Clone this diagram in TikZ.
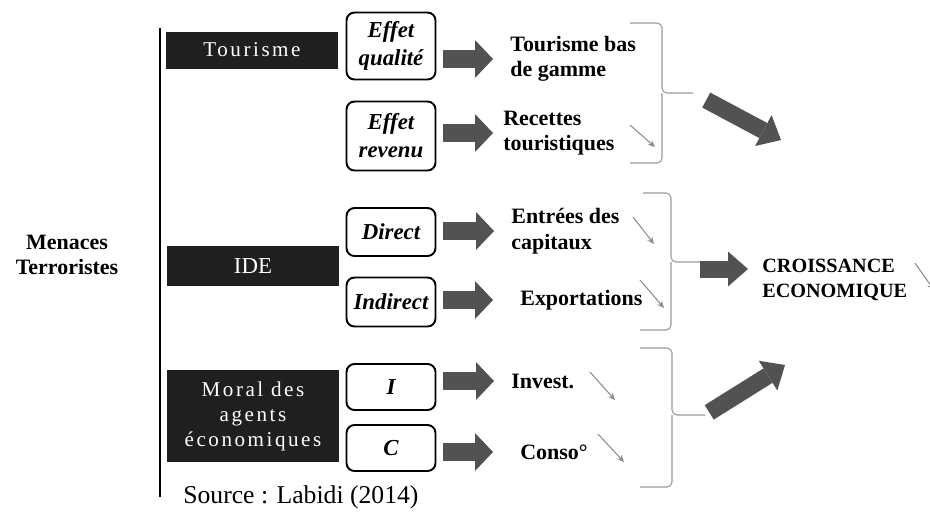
\documentclass[tikz,border=0pt]{standalone}
\usepackage{fontspec}
\setmainfont{Liberation Serif}
\newfontfamily\widefont[LetterSpace=12]{Liberation Serif}
\usetikzlibrary{arrows.meta,positioning}

\begin{document}
\begin{tikzpicture}[%
    x=0.02cm, y=-0.02cm,        % One unit is one pixel of the page
    >={Triangle[length=0.36cm,width=0.76cm,line width=0pt]},
    ]
% -------------------------------------------------
% Box, label and arrow styles
\tikzset{
  dark/.style={fill=black!88, text=white, align=center, minimum width=3.46cm,
    inner sep=0pt, font=\widefont\fontsize{12}{14.2}\selectfont},
  eff/.style={draw, line width=1.1pt, rounded corners=0.16cm, align=center,
    minimum width=1.78cm, inner sep=1pt, font=\bfseries\itshape\fontsize{13}{16}\selectfont},
  lbl/.style={anchor=west, inner sep=0pt, align=left, font=\bfseries\fontsize{12.5}{14.5}\selectfont},
  % Connector line styles
  fat/.style={->, draw=black!68, line width=0.36cm, shorten <=0.14cm, shorten >=0.34cm},
  big/.style={-{Triangle[length=0.4cm,width=0.7cm,line width=0pt]}, draw=black!68, line width=0.34cm},
  brc/.style={draw=black!40, line width=0.6pt, rounded corners=0.1cm},
  dec/.style={-{Stealth[length=4pt,width=3.5pt]}, draw=black!45, line width=0.6pt},
}
\useasboundingbox (0,0) rectangle (930,512);
% -------------------------------------------------
% Start by placing the nodes
\node[align=center, font=\bfseries\fontsize{12.5}{14.5}\selectfont] (mt) at (67,255) {Menaces\\Terroristes};
\draw[line width=1.6pt] (160,28) -- (160,497);

\node[dark, minimum height=0.74cm] (tour) at (252,50) {Tourisme};
\node[dark, minimum height=0.8cm, font=\rmfamily\fontsize{13}{15}\selectfont] (ide) at (253,266) {IDE};
\node[dark, minimum height=1.84cm] (moral) at (253,416) {Moral des\\agents\\économiques};

\node[eff, minimum height=1.34cm] (eq) at (391,46) {Effet\\qualité};
\node[eff, minimum height=1.38cm] (er) at (391,136) {Effet\\revenu};
\node[eff, minimum height=0.96cm] (di) at (391,232) {Direct};
\node[eff, minimum height=0.98cm] (ind) at (391,302) {Indirect};
\node[eff, minimum height=0.92cm] (ii) at (391,387) {I};
\node[eff, minimum height=0.92cm] (cc) at (391,448) {C};

\node[lbl] (tb) at (510,59) {Tourisme bas\\de gamme};
\node[lbl] (rt) at (503,133) {Recettes\\touristiques};
\node[lbl] (ec) at (511,231) {Entrées des\\capitaux};
\node[lbl] (ex) at (520,300) {Exportations};
\node[lbl] (iv) at (511,381) {Invest.};
\node[lbl] (co) at (520,452) {Conso°};

\node[lbl, font=\bfseries\fontsize{11.5}{14.2}\selectfont] (cr) at (762,280) {CROISSANCE\\ECONOMIQUE};
\node[anchor=west, inner sep=0pt, font=\fontsize{14.6}{17}\selectfont] (src) at (183,497) {Source : Labidi (2014)};
% -------------------------------------------------
% Fat arrows from each channel to its effect
\draw[fat] (eq.east |- tb.west) -- (tb.west);
\draw[fat, shorten >=0.2cm] (er.east |- rt.west) -- (rt.west);
\draw[fat] (di.east |- ec.west) -- (ec.west);
\draw[fat, shorten >=0.54cm] (ind.east |- ex.west) -- (ex.west);
\draw[fat] (ii.east |- iv.west) -- (iv.west);
\draw[fat, shorten >=0.54cm] (cc.east |- co.west) -- (co.west);

% Small "falling" marks
\draw[dec] (630,125) -- (655,147);
\draw[dec] (633,217) -- (654,244);
\draw[dec] (640,280) -- (664,308);
\draw[dec] (590,372) -- (615,400);
\draw[dec] (598,434) -- (624,462);
\draw[dec] (915,263) -- (934,290);

% Braces grouping the effects
\coordinate (b1) at (693,93);
\coordinate (b2) at (700,262);
\coordinate (b3) at (705,415);
\draw[brc] (630,23) -| (662,93) -- (b1);
\draw[brc] (662,93) |- (630,163);
\draw[brc] (643,193) -| (671,262) -- (b2);
\draw[brc] (671,262) |- (640,330);
\draw[brc] (640,348) -| (672,415) -- (b3);
\draw[brc] (672,415) |- (640,487);

% Big arrows towards growth
\coordinate (t1) at (781,140);
\coordinate (t2) at (748,269);
\coordinate (t3) at (785,365);
\draw[big, shorten <=0.3cm] (b1) -- (t1);
\draw[big] (b2 |- t2) -- (t2);
\draw[big, shorten <=0.1cm] (b3) -- (t3);
% -------------------------------------------------
\end{tikzpicture}
\end{document}
